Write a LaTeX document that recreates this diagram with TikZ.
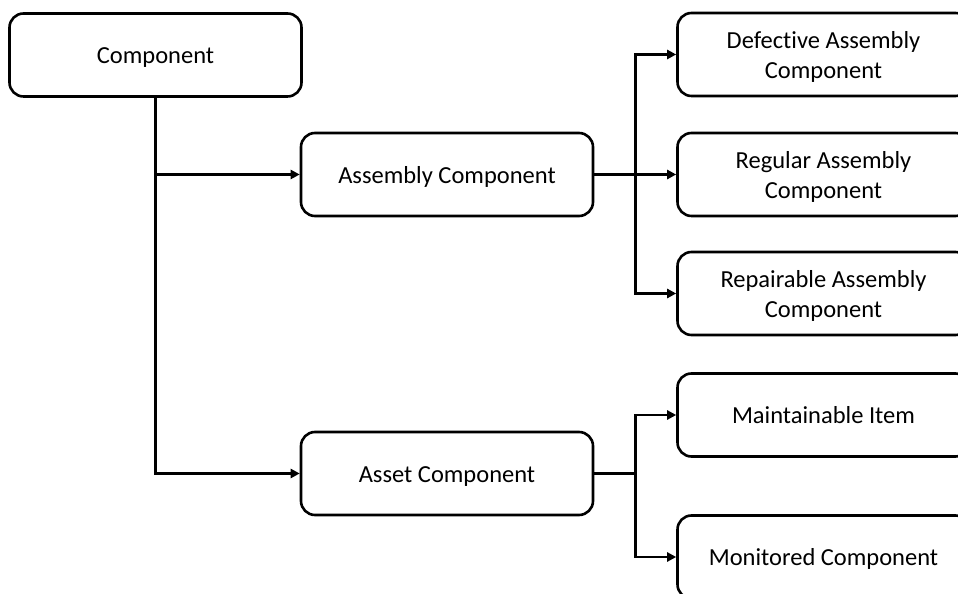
\documentclass[tikz,border=0pt]{standalone}
\usepackage{fontspec}
\setmainfont{Carlito}[RawFeature={-liga}]
\usetikzlibrary{arrows.meta}
% box text, set a little below the geometric centre
\newcommand\boxtext[1]{\raisebox{-3pt}[\height][\depth]{\begin{tabular}{@{}c@{}}#1\end{tabular}}}
\begin{document}
\begin{tikzpicture}[x=1pt,y=1pt,
  box/.style={draw=black, line width=2.6pt, rounded corners=14pt, fill=white,
    minimum width=292pt, minimum height=83pt, inner sep=0pt,
    font=\fontsize{24.5}{30}\selectfont, text=black},
  link/.style={draw=black, line width=2.6pt},
  arr/.style={link, -{Triangle[length=9pt,width=9pt]}}]
  % page area
  \fill[white] (0,0) rectangle (958,594);
  \useasboundingbox (0,0) rectangle (958,594);

  % boxes (centres measured from the top-left corner, y downwards)
  \node[box] (comp) at (155.5,594-55)    {\boxtext{Component}};
  \node[box] (asm)  at (447,594-174.5)   {\boxtext{Assembly Component}};
  \node[box] (ast)  at (447,594-473.5)   {\boxtext{Asset Component}};
  \node[box] (def)  at (823.5,594-54.5)  {\boxtext{Defective Assembly\\Component}};
  \node[box] (reg)  at (823.5,594-174.5) {\boxtext{Regular Assembly\\Component}};
  \node[box] (rep)  at (823.5,594-293.5) {\boxtext{Repairable Assembly\\Component}};
  \node[box] (mnt)  at (823.5,594-415)   {\boxtext{Maintainable Item}};
  \node[box] (mon)  at (823.5,594-557)   {\boxtext{Monitored Component}};

  % branch points
  \coordinate (j1) at ([xshift=41pt]asm.east);
  \coordinate (j2) at ([xshift=41pt]ast.east);

  % Component -> its two kinds
  \draw[arr] (comp.south) |- (ast.west);
  \draw[arr] (comp.south |- asm.west) -- (asm.west);

  % Assembly Component -> its three kinds
  \draw[link] (asm.east) -- (j1);
  \draw[arr] (j1) |- (def.west);
  \draw[arr] (j1) -- (reg.west);
  \draw[arr] (j1) |- (rep.west);

  % Asset Component -> its two kinds
  \draw[link] (ast.east) -- (j2);
  \draw[arr] (j2) |- (mnt.west);
  \draw[arr] (j2) |- (mon.west);
\end{tikzpicture}
\end{document}
